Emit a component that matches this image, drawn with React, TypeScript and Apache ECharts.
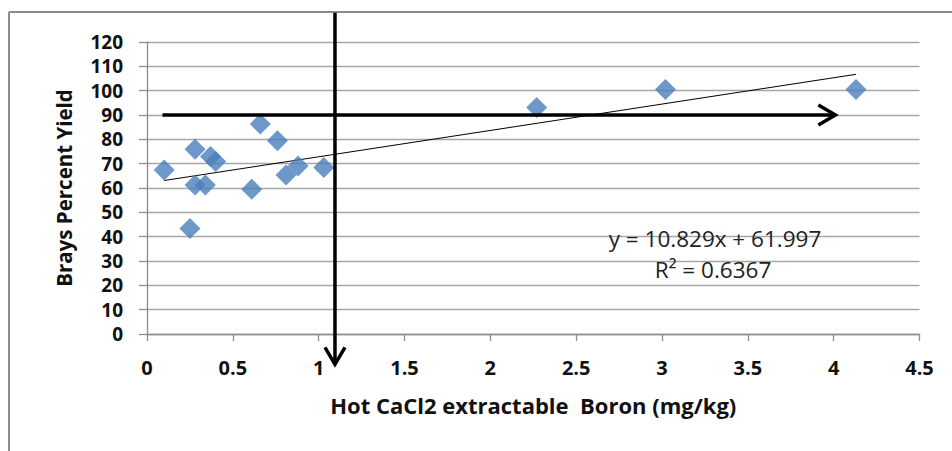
import React, { useEffect, useRef } from "react";
import * as echarts from "echarts";

// Data
const boron = [0.10, 0.25, 0.28, 0.37, 0.40, 0.28, 0.34, 0.61, 0.66, 0.76, 0.81, 0.88, 1.03, 2.27, 3.02, 4.13];
const yieldPct = [67.4, 43.4, 75.9, 72.9, 70.9, 61.2, 61.2, 59.5, 86.3, 79.4, 65.3, 69.0, 68.4, 93.1, 100.5, 100.5];

// Trend line (from the chart's equation)
const slope = 10.829;
const intercept = 61.997;
const equationText = "y = 10.829x + 61.997";
const r2Text = "R² = 0.6367";

// Annotation arrows in data coordinates: [start, end]
const hArrow = [[0.09, 90], [4.01, 90]];
const vArrow = [[1.095, 132], [1.095, -12.5]];

const xTicks = { min: 0, max: 4.5, interval: 0.5 };
const yTicks = { min: 0, max: 120, interval: 10 };

const FONT = "'Open Sans', Lato, sans-serif";

export default function App() {
  const ref = useRef<HTMLDivElement>(null);
  useEffect(() => {
    if (!ref.current) return;
    const chart = echarts.init(ref.current, undefined, { renderer: "svg" });
    const xMin = Math.min(...boron);
    const xMax = Math.max(...boron);
    const points = boron.map((x, i) => [x, yieldPct[i]]);
    chart.setOption({
      animation: false,
      backgroundColor: "#ffffff",
      grid: { left: 147, right: 32.5, top: 42, bottom: 117 },
      xAxis: {
        type: "value",
        min: xTicks.min,
        max: xTicks.max,
        interval: xTicks.interval,
        name: "Hot CaCl2 extractable  Boron (mg/kg)",
        nameLocation: "middle",
        nameGap: 60,
        nameTextStyle: { fontFamily: FONT, fontWeight: "bold", fontSize: 22, color: "#111" },
        axisLine: { show: true, lineStyle: { color: "#8c8c8c", width: 1.3 } },
        axisTick: { show: true, length: 7, lineStyle: { color: "#8c8c8c", width: 1.3 } },
        axisLabel: { margin: 23, fontFamily: FONT, fontWeight: "bold", fontSize: 20, color: "#111" },
        splitLine: { show: false },
      },
      yAxis: {
        type: "value",
        min: yTicks.min,
        max: yTicks.max,
        interval: yTicks.interval,
        name: "Brays Percent Yield",
        nameLocation: "middle",
        nameGap: 73,
        nameTextStyle: { fontFamily: FONT, fontWeight: "bold", fontSize: 20.5, color: "#111" },
        axisLine: { show: true, lineStyle: { color: "#8c8c8c", width: 1.3 } },
        axisTick: { show: true, length: 8, lineStyle: { color: "#8c8c8c", width: 1.3 } },
        axisLabel: { margin: 24, fontFamily: FONT, fontWeight: "bold", fontSize: 19, color: "#111" },
        splitLine: { show: true, lineStyle: { color: "#a6a6a6", width: 1.3 } },
      },
      series: [
        {
          type: "line",
          data: [[xMin, slope * xMin + intercept], [xMax, slope * xMax + intercept]],
          showSymbol: false,
          symbol: "none",
          lineStyle: { color: "#000", width: 1 },
          silent: true,
          z: 3,
        },
        {
          type: "scatter",
          data: points,
          symbol: "diamond",
          symbolSize: 21,
          itemStyle: { color: "#4a7ebb" },
          z: 4,
        },
      ],
    });

    const px = (p: number[]) => chart.convertToPixel({ gridIndex: 0 }, p) as number[];
    const h0 = px(hArrow[0]);
    const h1 = px(hArrow[1]);
    const v0 = px(vArrow[0]);
    const v1 = px(vArrow[1]);
    const arrowStyle = { stroke: "#000", lineWidth: 3.5, fill: null as any };
    const back = 17;
    const half = 10;
    chart.setOption({
      graphic: [
        { type: "line", shape: { x1: 9, y1: 12, x2: 952, y2: 12 }, style: { stroke: "#8c8c8c", lineWidth: 2 }, z: 10 },
        { type: "line", shape: { x1: 9, y1: 12, x2: 9, y2: 451 }, style: { stroke: "#8c8c8c", lineWidth: 2 }, z: 10 },
        { type: "line", shape: { x1: h0[0], y1: h0[1], x2: h1[0], y2: h1[1] }, style: arrowStyle, z: 20 },
        {
          type: "polyline",
          shape: { points: [[h1[0] - back, h1[1] - half], [h1[0], h1[1]], [h1[0] - back, h1[1] + half]] },
          style: arrowStyle,
          z: 20,
        },
        { type: "line", shape: { x1: v0[0], y1: v0[1], x2: v1[0], y2: v1[1] }, style: arrowStyle, z: 20 },
        {
          type: "polyline",
          shape: { points: [[v1[0] - half, v1[1] - back], [v1[0], v1[1]], [v1[0] + half, v1[1] - back]] },
          style: arrowStyle,
          z: 20,
        },
        {
          type: "text",
          x: 715,
          y: 238,
          style: { text: equationText, fontFamily: FONT, fontSize: 22.5, fill: "#222", align: "center", verticalAlign: "middle" },
          z: 15,
        },
        {
          type: "text",
          x: 713,
          y: 269,
          style: { text: r2Text, fontFamily: FONT, fontSize: 22.5, fill: "#222", align: "center", verticalAlign: "middle" },
          z: 15,
        },
      ],
    });
    return () => chart.dispose();
  }, []);
  return (
    <div
      ref={ref}
      style={{ position: "fixed", left: 0, top: 0, width: 952, height: 451, background: "#fff" }}
    />
  );
}
